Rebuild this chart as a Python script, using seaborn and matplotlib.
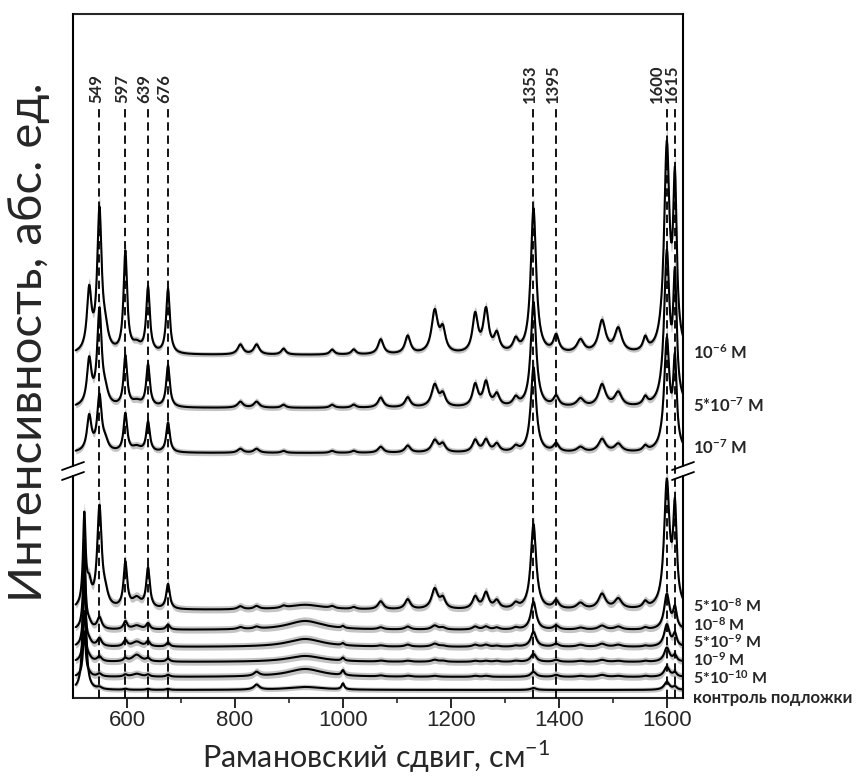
import numpy as np
import pandas as pd
import matplotlib
matplotlib.use("Agg")
import matplotlib.pyplot as plt
from matplotlib.lines import Line2D
import seaborn as sns

# ---------------- data ----------------
labels = [r"$\mathbf{10^{-6}}$ M", r"$\mathbf{5{*}10^{-7}}$ M", r"$\mathbf{10^{-7}}$ M",
          r"$\mathbf{5{*}10^{-8}}$ M", r"$\mathbf{10^{-8}}$ M", r"$\mathbf{5{*}10^{-9}}$ M",
          r"$\mathbf{10^{-9}}$ M", r"$\mathbf{5{*}10^{-10}}$ M", "контроль подложки"]

marked_peaks = [549, 597, 639, 676, 1353, 1395, 1600, 1615]

peak_cm   = [521, 530, 549, 560, 597, 618, 639, 676, 810, 840, 890, 930, 980, 1000, 1020, 1070,
             1120, 1170, 1185, 1245, 1265, 1285, 1320, 1353, 1395, 1440, 1480, 1510, 1560, 1600, 1615]
peak_hwhm = [3, 5, 5, 6, 4, 10, 4, 4, 6, 6, 5, 40, 5, 3, 5, 6,
             6, 7, 6, 6, 6, 6, 6, 6, 6, 8, 8, 8, 5, 6, 4]

h_1e6  = [0, 60, 140, 15, 100, 8, 65, 65, 10, 10, 6, 0, 5, 0, 5, 15, 18, 42, 22, 38, 42, 18, 12, 145, 17, 13, 32, 24, 13, 203, 160]
h_5e7  = [0, 45, 95, 10, 50, 5, 42, 42, 6, 6, 3, 0, 3, 0, 3, 10, 10, 22, 12, 22, 24, 12, 8, 105, 10, 8, 22, 14, 8, 150, 120]
h_1e7  = [0, 35, 55, 8, 38, 5, 30, 30, 4, 4, 2, 0, 2, 0, 2, 6, 7, 12, 8, 12, 12, 8, 5, 85, 8, 5, 13, 8, 5, 110, 85]
h_5e8  = [90, 20, 100, 10, 45, 10, 40, 25, 3, 3, 2, 5, 2, 0, 2, 8, 10, 20, 10, 12, 16, 8, 5, 85, 8, 6, 15, 10, 6, 125, 95]
h_1e8  = [70, 5, 12, 0, 8, 4, 6, 5, 2, 2, 0, 9, 0, 2, 0, 2, 3, 4, 2, 3, 3, 2, 2, 28, 4, 2, 4, 3, 2, 35, 20]
h_5e9  = [60, 4, 8, 0, 6, 5, 5, 4, 0, 0, 0, 8, 0, 2, 0, 1, 2, 3, 1, 2, 2, 1, 1, 15, 3, 2, 3, 2, 1, 22, 12]
h_1e9  = [50, 3, 5, 0, 3, 7, 3, 3, 0, 0, 0, 6, 0, 3, 0, 1, 1, 2, 1, 1, 1, 1, 1, 8, 2, 1, 2, 1, 1, 14, 6]
h_5e10 = [45, 2, 3, 0, 2, 3, 2, 2, 0, 4, 0, 8, 0, 5, 0, 1, 1, 1, 0, 1, 1, 0, 0, 5, 2, 1, 2, 1, 1, 10, 4]
h_ctrl = [150, 0, 2, 0, 1, 0, 1, 1, 0, 5, 0, 3, 0, 6, 0, 0, 0, 0, 0, 0, 0, 0, 0, 2, 0, 0, 0, 0, 0, 8, 3]

heights = [h_1e6, h_5e7, h_1e7, h_5e8, h_1e8, h_5e9, h_1e9, h_5e10, h_ctrl]
offsets = [343, 290, 245, 88, 68, 51, 36, 21, 8]          # stacking offsets (a.u.)
band_sd = [2.5, 3.0, 3.0, 3.5, 3.5, 3.5, 3.5, 3.5, 2.5]   # spread of replicate spectra (a.u.)

x_ticks = [600, 800, 1000, 1200, 1400, 1600]
x_minor = [700, 900, 1100, 1300, 1500]

# ---------------- build spectra from the peak tables ----------------
wn = np.arange(505, 1631, 1.0)
pc = np.array(peak_cm, float)[:, None]
pw = np.array(peak_hwhm, float)[:, None]
shape = 1.0 / (1.0 + ((wn[None, :] - pc) / pw) ** 2)
rows = []
for i, (h, off, sd) in enumerate(zip(heights, offsets, band_sd)):
    sig = (np.array(h, float)[:, None] * shape).sum(axis=0)
    y = off + sig
    band = sd + 0.06 * sig
    rows.append(pd.DataFrame({"wn": wn, "y": y, "lo": y - band, "hi": y + band, "sample": i}))
df = pd.concat(rows, ignore_index=True)

# ---------------- figure ----------------
sns.set_theme(style="ticks")
plt.rcParams['font.family'] = ['Lato', 'DejaVu Sans']
plt.rcParams['mathtext.fontset'] = 'custom'
plt.rcParams['mathtext.rm'] = 'Lato'
plt.rcParams['mathtext.bf'] = 'Lato:bold'
plt.rcParams['lines.scale_dashes'] = False

W, H = 860, 780
fig = plt.figure(figsize=(W / 100, H / 100), dpi=100)
L, R, T, B = 73, 683, 14, 698
ax = fig.add_axes([L / W, 1 - B / H, (R - L) / W, (B - T) / H])

for i, g in df.groupby("sample"):
    ax.fill_between(g["wn"], g["lo"], g["hi"], color="#c4c4c4", lw=0, zorder=1)
sns.lineplot(data=df, x="wn", y="y", units="sample", estimator=None, color="black",
             lw=1.5, ax=ax, zorder=2, legend=False)

ax.set_xlim(500, 1630)
ax.set_ylim(0, B - T)

top_dash = B - 105
ax.vlines(marked_peaks, 0, top_dash, colors="black", linestyles=(0, (6, 3.5)), lw=1.3, zorder=3)
label_shift = [-2.5, -2.5, -2.5, -2.5, -2.5, -2.5, -7.0, -2.5]
for p, dx in zip(marked_peaks, label_shift):
    ax.annotate(str(p), (p, top_dash + 2), xytext=(dx, 0), textcoords="offset points",
                rotation=90, ha="center", va="bottom", fontsize=12, fontweight="bold")

ax.set_xticks(x_ticks)
ax.set_xticks(x_minor, minor=True)
ax.set_xticklabels([str(t) for t in x_ticks], family=["Liberation Sans"], fontsize=16)
ax.set_yticks([])
ax.tick_params(axis="x", which="major", direction="out", length=7, width=1.4, pad=2)
ax.tick_params(axis="x", which="minor", direction="out", length=3.5, width=1.2)
ax.set_xlabel("")
ax.set_ylabel("")
for s in ["top", "bottom"]:
    ax.spines[s].set_linewidth(1.5)
ax.spines["left"].set_visible(False)
ax.spines["right"].set_visible(False)

def fx(px):
    return px / W

def fy(py):
    return 1 - py / H

# broken side spines with break marks
g1, g2 = 466, 476
for xs in (L, R):
    fig.add_artist(Line2D([fx(xs), fx(xs)], [fy(T), fy(g1)], color="black", lw=1.5))
    fig.add_artist(Line2D([fx(xs), fx(xs)], [fy(g2), fy(B)], color="black", lw=1.5))
    for gy in (g1, g2):
        fig.add_artist(Line2D([fx(xs - 11), fx(xs + 11)], [fy(gy + 4), fy(gy - 4)], color="black", lw=1.3))

label_y = [353, 406, 448, 606, 625, 642, 660, 678, 698]
label_fs = [12, 12, 12, 11.5, 11.5, 11.5, 11.5, 11.5, 12]
for txt, yy, fs in zip(labels, label_y, label_fs):
    fig.text(fx(693), fy(yy), txt, ha="left", va="center", fontsize=fs, fontweight="bold")

fig.text(fx(376), fy(757), "Рамановский сдвиг, см$^{-1}$", ha="center", va="center", fontsize=22)
fig.text(fx(29), fy(342), "Интенсивность, абс. ед.", ha="center", va="center", rotation=90, fontsize=34)

fig.savefig("out.png", dpi=100)
